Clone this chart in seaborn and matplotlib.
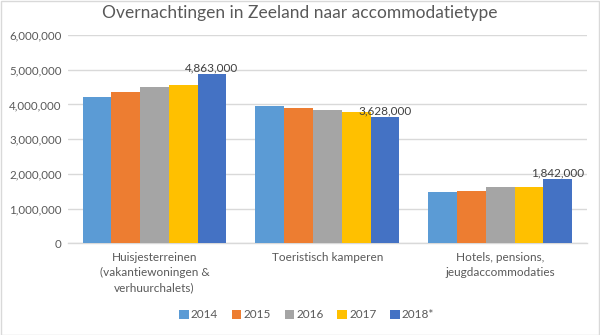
import matplotlib
matplotlib.use("Agg")
import matplotlib.pyplot as plt
from matplotlib.patches import Rectangle
from matplotlib.ticker import StrMethodFormatter
import pandas as pd
import seaborn as sns

categories = [
    "Huisjesterreinen\n(vakantiewoningen &\nverhuurchalets)",
    "Toeristisch kamperen",
    "Hotels, pensions,\njeugdaccommodaties",
]
years = ["2014", "2015", "2016", "2017", "2018*"]
v2014 = [4200000, 3960000, 1480000]
v2015 = [4370000, 3890000, 1500000]
v2016 = [4490000, 3840000, 1630000]
v2017 = [4560000, 3770000, 1625000]
v2018 = [4863000, 3628000, 1842000]
colors = ["#5B9BD5", "#ED7D31", "#A5A5A5", "#FFC000", "#4472C4"]
yticks = [0, 1000000, 2000000, 3000000, 4000000, 5000000, 6000000]

series = [v2014, v2015, v2016, v2017, v2018]
rows = []
for year, vals in zip(years, series):
    for cat, v in zip(categories, vals):
        rows.append({"type": cat, "year": year, "value": v})
df = pd.DataFrame(rows)

sns.set_theme(style="white")
plt.rcParams["font.family"] = ["Lato", "DejaVu Sans"]
text_color = "#595959"
grid_color = "#D9D9D9"

fig = plt.figure(figsize=(6.0, 3.35), dpi=100)
ax = fig.add_axes([68 / 600, 1 - 243.3 / 335, (586.7 - 68) / 600, (243.3 - 35) / 335])

sns.barplot(data=df, x="type", y="value", hue="year", order=categories,
            hue_order=years, palette=colors, saturation=1, width=0.832,
            linewidth=0, ax=ax, legend=False, zorder=3)

ax.set_xlim(-0.5, 2.5)
ax.set_ylim(0, 6000000)
ax.set_yticks(yticks)
ax.yaxis.set_major_formatter(StrMethodFormatter("{x:,.0f}"))
ax.grid(axis="y", color=grid_color, linewidth=1, zorder=0)
ax.grid(axis="x", visible=False)
for side in ["top", "right", "left"]:
    ax.spines[side].set_visible(False)
ax.spines["bottom"].set_color(grid_color)
ax.spines["bottom"].set_linewidth(1)
ax.set_xlabel("")
ax.set_ylabel("")
ax.tick_params(axis="y", length=0, pad=4.5, labelsize=8.3, labelcolor=text_color)
ax.tick_params(axis="x", length=0, pad=6.5, labelsize=8.5, labelcolor=text_color)
for lbl in ax.get_xticklabels():
    lbl.set_linespacing(1.45)
    lbl.set_horizontalalignment("center")

# value labels on the 2018* series
last = ax.containers[-1]
ax.bar_label(last, labels=[f"{v:,.0f}" for v in v2018], padding=1,
             fontsize=8.5, color="#404040")

handles = [Rectangle((0, 0), 1, 1, facecolor=c, edgecolor="none") for c in colors]
fig.legend(handles, years, loc="center", bbox_to_anchor=(306.7 / 600, 1 - 315 / 335),
           ncol=5, frameon=False, fontsize=8.5, labelcolor=text_color,
           handlelength=0.8, handleheight=0.8, handletextpad=0.2,
           columnspacing=1.15, borderaxespad=0)

fig.text(0.5, 1 - 13 / 335, "Overnachtingen in Zeeland naar accommodatietype",
         ha="center", va="center", fontsize=12.5, color=text_color)

fig.patches.append(Rectangle((0.5 / 600, 0.5 / 335), 598 / 600, 333.5 / 335,
                             transform=fig.transFigure, fill=False,
                             edgecolor=grid_color, linewidth=1))

fig.savefig("out.png", dpi=100, facecolor="white")
